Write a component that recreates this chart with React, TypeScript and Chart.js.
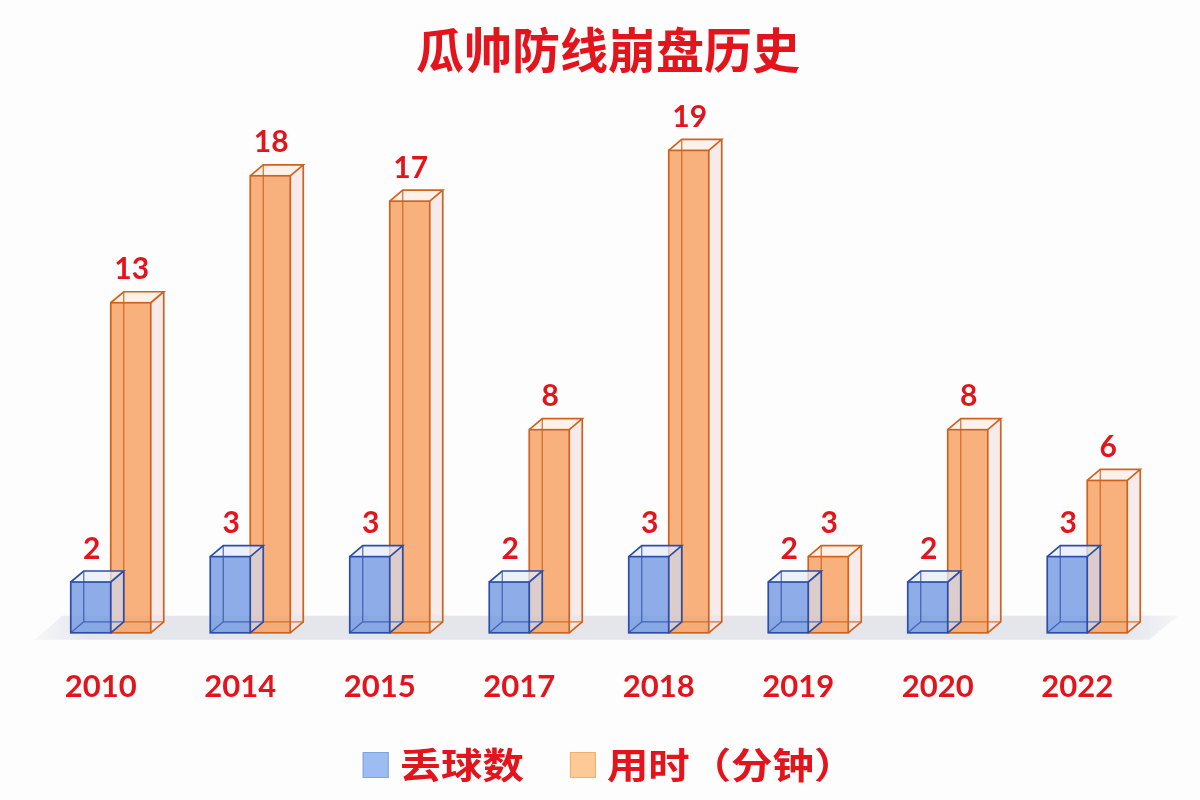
import React, { useEffect, useRef } from 'react';
import { Chart, registerables } from 'chart.js';

Chart.register(...registerables);

const categories = ['2010', '2014', '2015', '2017', '2018', '2019', '2020', '2022'];
const goalsConceded = [2, 3, 3, 2, 3, 2, 2, 3];
const minutesUsed = [13, 18, 17, 8, 19, 3, 8, 6];
const seriesNames = ['丢球数', '用时（分钟）'];
const chartTitle = '瓜帅防线崩盘历史';

const RED = '#e3141b';
const CJK = '"Noto Sans CJK SC", "Noto Sans", sans-serif';
const NUM = 'Lato, "Noto Sans", sans-serif';
const DX = 13;
const DY = -11;

const cuboidStyles = [
  {
    front: 'rgba(110,150,225,0.78)',
    top: 'rgba(228,235,250,0.75)',
    side: 'rgba(205,218,246,0.65)',
    edge: '#2c4ea6',
    hidden: 'rgba(44,78,166,0.75)',
  },
  {
    front: 'rgba(246,160,95,0.82)',
    top: 'rgba(252,238,230,0.78)',
    side: 'rgba(243,228,228,0.78)',
    edge: '#d0621c',
    hidden: 'rgba(208,98,28,0.85)',
  },
];

const cuboidPlugin = {
  id: 'cuboids',
  beforeDatasetsDraw(chart: any) {
    const { ctx, chartArea } = chart;
    const b = chartArea.bottom;
    const l = chartArea.left;
    const r = chartArea.right;
    ctx.save();
    const g = ctx.createLinearGradient(l - 10, 0, r + 25, 0);
    g.addColorStop(0, 'rgba(228,230,236,0.2)');
    g.addColorStop(0.05, 'rgba(228,230,236,1)');
    g.addColorStop(0.95, 'rgba(228,230,236,1)');
    g.addColorStop(1, 'rgba(228,230,236,0.3)');
    ctx.fillStyle = g;
    ctx.beginPath();
    ctx.moveTo(l + 21, b - 17);
    ctx.lineTo(r + 21, b - 17);
    ctx.lineTo(r - 8, b + 7);
    ctx.lineTo(l - 6, b + 7);
    ctx.closePath();
    ctx.fill();
    ctx.restore();
  },
  beforeDatasetDraw(chart: any, args: any) {
    const { ctx } = chart;
    const st = cuboidStyles[args.index];
    const meta = args.meta;
    ctx.save();
    meta.data.forEach((el: any) => {
      const p = el.getProps(['x', 'y', 'base', 'width'], true);
      const x0 = p.x - p.width / 2;
      const x1 = p.x + p.width / 2;
      const yt = p.y;
      const yb = p.base;
      ctx.fillStyle = st.side;
      ctx.beginPath();
      ctx.moveTo(x1, yt);
      ctx.lineTo(x1 + DX, yt + DY);
      ctx.lineTo(x1 + DX, yb + DY);
      ctx.lineTo(x1, yb);
      ctx.closePath();
      ctx.fill();
      ctx.fillStyle = st.top;
      ctx.beginPath();
      ctx.moveTo(x0, yt);
      ctx.lineTo(x0 + DX, yt + DY);
      ctx.lineTo(x1 + DX, yt + DY);
      ctx.lineTo(x1, yt);
      ctx.closePath();
      ctx.fill();
      ctx.fillStyle = st.front;
      ctx.fillRect(x0, yt, x1 - x0, yb - yt);
      ctx.strokeStyle = st.hidden;
      ctx.lineWidth = 1.3;
      ctx.beginPath();
      ctx.moveTo(x0 + DX, yt + DY);
      ctx.lineTo(x0 + DX, yb + DY);
      ctx.lineTo(x1 + DX, yb + DY);
      ctx.moveTo(x0, yb);
      ctx.lineTo(x0 + DX, yb + DY);
      ctx.stroke();
      ctx.strokeStyle = st.edge;
      ctx.lineWidth = 1.7;
      ctx.strokeRect(x0, yt, x1 - x0, yb - yt);
      ctx.beginPath();
      ctx.moveTo(x0, yt);
      ctx.lineTo(x0 + DX, yt + DY);
      ctx.lineTo(x1 + DX, yt + DY);
      ctx.lineTo(x1, yt);
      ctx.moveTo(x1 + DX, yt + DY);
      ctx.lineTo(x1 + DX, yb + DY);
      ctx.lineTo(x1, yb);
      ctx.stroke();
    });
    ctx.restore();
    return false;
  },
  afterDatasetsDraw(chart: any) {
    const { ctx } = chart;
    ctx.save();
    ctx.fillStyle = RED;
    ctx.font = `bold 30px ${NUM}`;
    ctx.textAlign = 'center';
    ctx.textBaseline = 'middle';
    chart.data.datasets.forEach((ds: any, i: number) => {
      const meta = chart.getDatasetMeta(i);
      meta.data.forEach((el: any, j: number) => {
        const p = el.getProps(['x', 'y'], true);
        ctx.fillText(String(ds.data[j]), p.x + 1, p.y - 33);
      });
    });
    ctx.restore();
  },
  afterDraw(chart: any) {
    const { ctx } = chart;
    // title
    ctx.save();
    ctx.fillStyle = RED;
    ctx.font = `bold 48px ${CJK}`;
    ctx.textAlign = 'center';
    ctx.textBaseline = 'middle';
    ctx.fillText(chartTitle, chart.width / 2 + 8, 50);
    ctx.restore();

    // legend
    const sx = 1.15;
    const box = 26;
    const gapBT = 11;
    const gapItems = 46;
    const legendY = 765;
    const swatches = [
      { fill: '#9dbdf2', stroke: '#7fa2e0' },
      { fill: '#fdc994', stroke: '#f0b070' },
    ];
    ctx.save();
    ctx.font = `bold 36px ${CJK}`;
    const widths = chart.data.datasets.map((ds: any) => ctx.measureText(ds.label).width * sx);
    const total = widths.reduce((a: number, w: number) => a + w, 0) + 2 * (box + gapBT) + gapItems;
    let x = chart.width / 2 + 9 - total / 2;
    chart.data.datasets.forEach((ds: any, i: number) => {
      const s = swatches[i];
      ctx.fillStyle = s.fill;
      ctx.strokeStyle = s.stroke;
      ctx.lineWidth = 1;
      ctx.fillRect(x, legendY - box / 2, box, box);
      ctx.strokeRect(x + 0.5, legendY - box / 2 + 0.5, box - 1, box - 1);
      x += box + gapBT;
      ctx.save();
      ctx.translate(x, legendY);
      ctx.scale(sx, 1);
      ctx.fillStyle = RED;
      ctx.textAlign = 'left';
      ctx.textBaseline = 'middle';
      ctx.fillText(ds.label, 0, 0);
      ctx.restore();
      x += widths[i] + gapItems;
    });
    ctx.restore();
  },
};

export default function App() {
  const ref = useRef<HTMLCanvasElement>(null);
  useEffect(() => {
    const chart = new Chart(ref.current as HTMLCanvasElement, {
      type: 'bar',
      data: {
        labels: categories,
        datasets: [
          {
            label: seriesNames[0],
            data: goalsConceded,
            backgroundColor: '#9dbdf2',
            barThickness: 40,
          },
          {
            label: seriesNames[1],
            data: minutesUsed,
            backgroundColor: '#fdc994',
            barThickness: 40,
          },
        ],
      },
      options: {
        animation: false,
        responsive: false,
        layout: { padding: { left: 41, right: 43, top: 125, bottom: 58 } },
        plugins: {
          title: { display: false },
          legend: { display: false },
          tooltip: { enabled: false },
        },
        scales: {
          x: {
            grid: { display: false, drawTicks: false },
            border: { display: false },
            ticks: {
              color: RED,
              font: { family: NUM, size: 31, weight: 'bold', lineHeight: 1.2 },
              padding: 36,
              labelOffset: -10,
              maxRotation: 0,
              autoSkip: false,
            },
          },
          y: { display: false, min: 0, max: 20 },
        },
      },
      plugins: [cuboidPlugin],
    } as any);
    return () => chart.destroy();
  }, []);
  return (
    <div style={{ position: 'fixed', left: 0, top: 0, width: 1200, height: 800, background: '#fdfdfe' }}>
      <canvas ref={ref} width={1200} height={800} style={{ width: 1200, height: 800, display: 'block' }} />
    </div>
  );
}
